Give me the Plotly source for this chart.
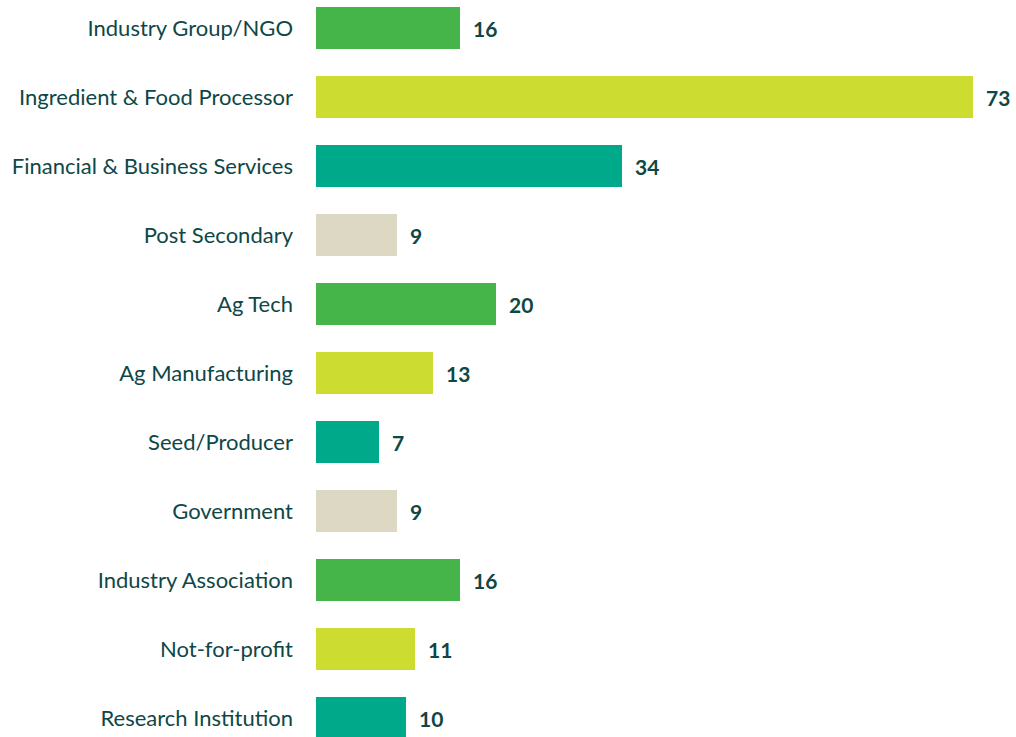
import plotly.graph_objects as go

categories = [
    "Industry Group/NGO",
    "Ingredient & Food Processor",
    "Financial & Business Services",
    "Post Secondary",
    "Ag Tech",
    "Ag Manufacturing",
    "Seed/Producer",
    "Government",
    "Industry Association",
    "Not-for-profit",
    "Research Institution",
]
counts = [16, 73, 34, 9, 20, 13, 7, 9, 16, 11, 10]

GREEN = "#45B549"
LIME = "#CDDC31"
TEAL = "#00A98A"
BEIGE = "#DDD8C4"
bar_colors = [GREEN, LIME, TEAL, BEIGE, GREEN, LIME, TEAL, BEIGE, GREEN, LIME, TEAL]

TEXT = "#0E4747"
FONT = "Lato"

positions = list(range(len(categories)))

fig = go.Figure(
    go.Bar(
        x=counts,
        y=positions,
        orientation="h",
        width=0.61,
        marker=dict(color=bar_colors, line=dict(width=0)),
        hoverinfo="skip",
    )
)

# value labels to the right of each bar
for pos, val in zip(positions, counts):
    fig.add_annotation(
        x=val, y=pos, xref="x", yref="y",
        text=f"<b>{val}</b>",
        showarrow=False, xanchor="left", xshift=11,
        font=dict(family=FONT, size=21, color=TEXT),
    )

fig.update_layout(
    width=1016, height=737,
    margin=dict(l=316, r=10, t=0, b=0),
    paper_bgcolor="white", plot_bgcolor="white",
    showlegend=False,
    bargap=0,
    xaxis=dict(range=[0, 76.7], visible=False, fixedrange=True),
    yaxis=dict(
        range=[10.275, -0.406],
        tickvals=positions, ticktext=categories,
        showgrid=False, zeroline=False, showline=False, ticks="",
        ticklabelstandoff=22,
        tickfont=dict(family=FONT, size=22, color=TEXT),
        fixedrange=True,
    ),
)

fig.write_html("out.html")
